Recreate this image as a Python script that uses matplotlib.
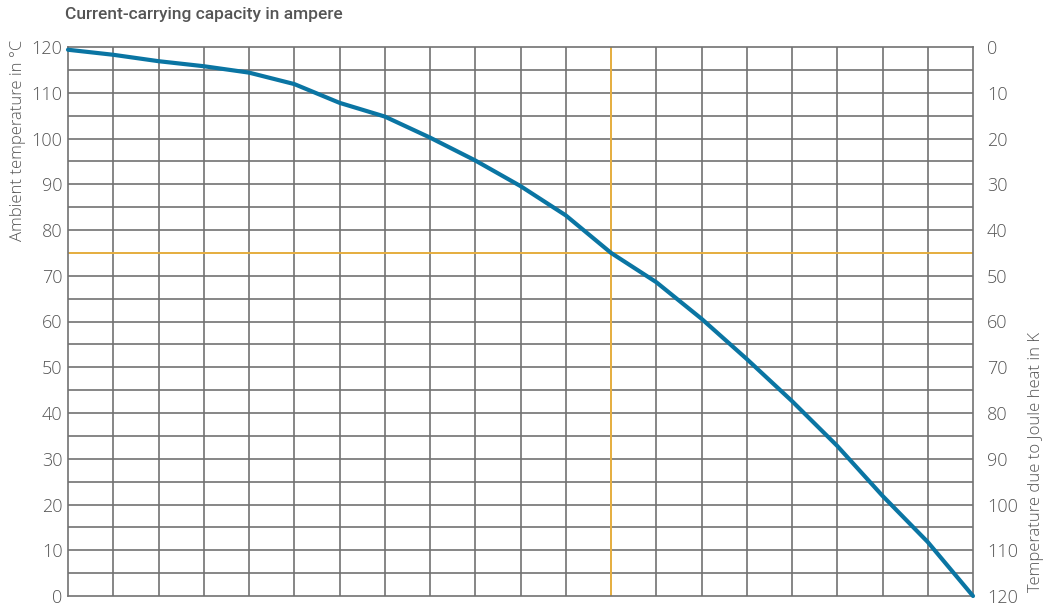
import matplotlib.pyplot as plt
import numpy as np

# current steps along the x axis (grid columns, unlabeled in the source)
current_steps = list(range(21))
# ambient temperature in degC at every grid column
ambient_temp = [119.4, 118.3, 116.9, 115.8, 114.4, 111.9, 107.8, 104.8, 100.2,
                95.2, 89.6, 83.2, 75.0, 68.6, 60.6, 51.8, 42.6, 32.8, 21.9,
                11.8, 0.0]

marker_current = 12
marker_temp = 75

left_ticks = list(range(0, 121, 10))
right_ticks = list(range(0, 121, 10))

grid_col = "#727272"
text_col = "#555555"
curve_col = "#0a75a3"
marker_col = "#f0b43c"

plt.rcParams["font.family"] = ["Open Sans", "DejaVu Sans"]

fig = plt.figure(figsize=(10.53, 6.04), dpi=100)
ax = fig.add_axes([68 / 1053, 1 - 596 / 604, (973 - 68) / 1053, (596 - 47) / 604])

ax.set_xlim(0, 20)
ax.set_ylim(0, 120)

# grid: vertical every column, horizontal every 5 degrees
for x in range(1, 20):
    ax.axvline(x, color=grid_col, lw=1.2, zorder=1)
for y in range(5, 120, 5):
    ax.axhline(y, color=grid_col, lw=1.2, zorder=1)

# marker lines
ax.axvline(marker_current, color=marker_col, lw=1.3, zorder=2)
ax.axhline(marker_temp, color=marker_col, lw=1.3, zorder=2)

ax.plot(current_steps, ambient_temp, color=curve_col, lw=3, zorder=3,
        solid_capstyle="round", solid_joinstyle="round", clip_on=False)

for s in ax.spines.values():
    s.set_color(grid_col)
    s.set_linewidth(1.2)

ax.set_xticks([])
ax.set_yticks(left_ticks)
ax.tick_params(axis="y", length=0, pad=4, labelsize=13, labelcolor=text_col)
for lab in ax.get_yticklabels():
    lab.set_fontweight("light")
    lab.set_va("center_baseline")

ax2 = ax.twinx()
ax2.set_ylim(120, 0)
ax2.set_yticks(right_ticks)
ax2.tick_params(axis="y", length=0, pad=10, labelsize=13, labelcolor=text_col)
for s in ax2.spines.values():
    s.set_visible(False)
for lab in ax2.get_yticklabels():
    lab.set_fontweight("light")
    lab.set_va("center_baseline")

fig.text(65 / 1053, 1 - 15 / 604, "Current-carrying capacity in ampere",
         fontsize=12.5, color=text_col, fontweight="medium",
         ha="left", va="center", family=["Roboto", "DejaVu Sans"])
fig.text(18 / 1053, 1 - 40 / 604, "Ambient temperature in °C", rotation=90,
         fontsize=12, color=text_col, ha="center", va="top", fontweight="light")
fig.text(1036 / 1053, 1 - 592 / 604, "Temperature due to Joule heat in K", rotation=90,
         fontsize=12, color=text_col, ha="center", va="bottom", fontweight="light")

fig.savefig("out.png", dpi=100)
